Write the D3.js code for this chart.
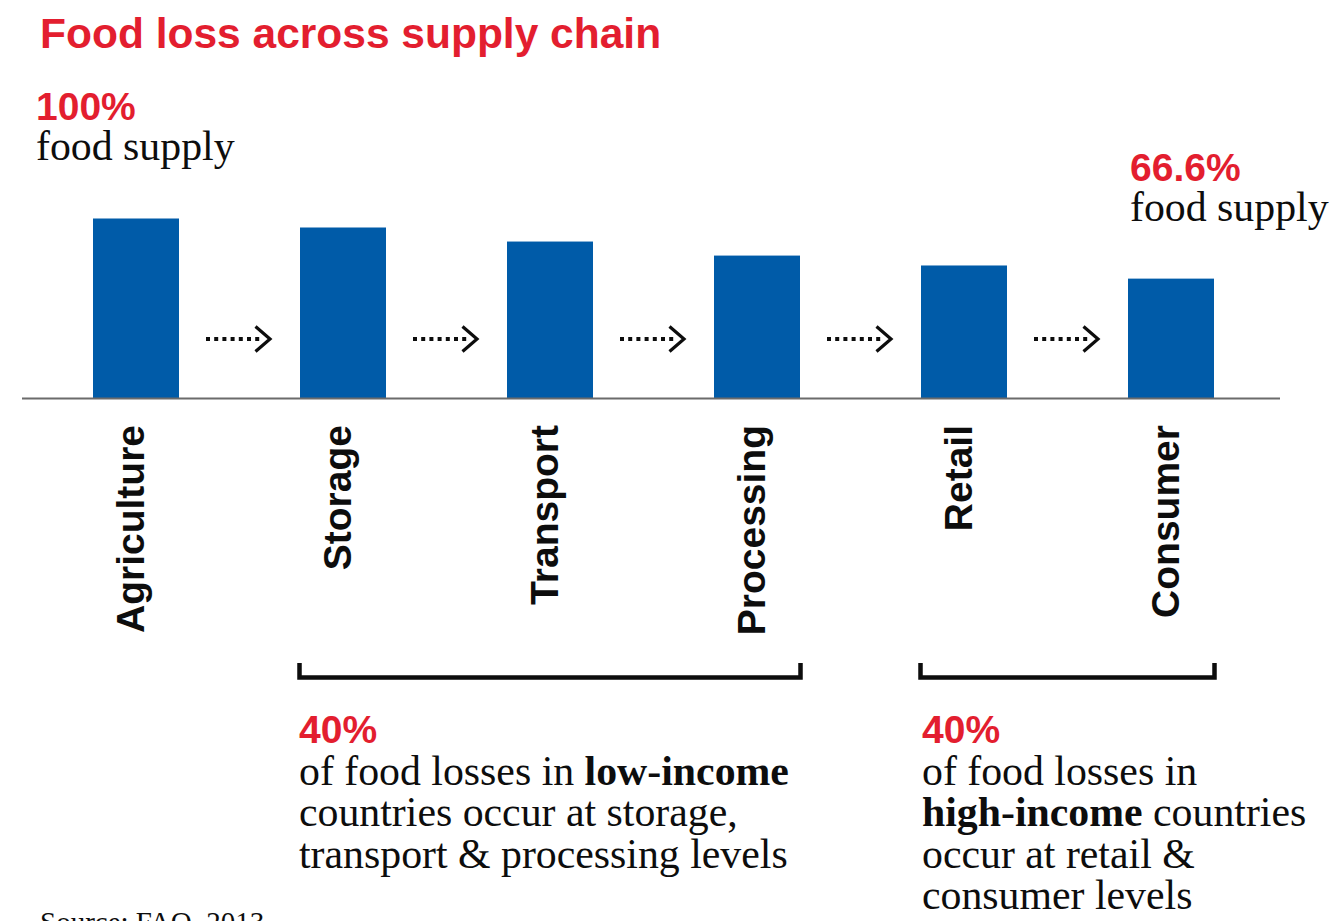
<!DOCTYPE html>
<html>
<head>
<meta charset="utf-8">
<script src="https://cdn.jsdelivr.net/npm/d3@7/dist/d3.min.js"></script>
<style>
  html, body { margin: 0; padding: 0; background: #ffffff; }
  svg { display: block; }
</style>
</head>
<body>
<svg id="chart" width="1338" height="921"></svg>
<script>
// Share of the original food supply still left at each stage of the chain (%)
const categories = ["Agriculture", "Storage", "Transport", "Processing", "Retail", "Consumer"];
const supplyPct = [100, 95.0, 87.2, 79.4, 73.9, 66.6];

// Loss groupings shown under the axis
const groupNames = ["low", "high"];
const groupStart = ["Storage", "Retail"];
const groupEnd = ["Processing", "Consumer"];
const groupShare = [40, 40];

const title = "Food loss across supply chain";
const sourceNote = "Source: FAO, 2013";

const RED = "#e31e2f";
const BLUE = "#005ba8";
const INK = "#0d0d0d";
const SANS = "'Liberation Sans', Arial, Helvetica, sans-serif";
const SERIF = "'Liberation Serif', 'Times New Roman', Times, serif";
const SERIF_SIZE = 41.8;

const svg = d3.select("#chart");

const x = d3.scaleBand()
  .domain(categories)
  .range([93, 1214])
  .paddingInner(121 / 207)
  .paddingOuter(0);

const y = d3.scaleLinear().domain([0, 100]).range([398.5, 218.5]);
const bw = x.bandwidth();

// Title
svg.append("text")
  .attr("x", 40).attr("y", 48)
  .attr("font-family", SANS).attr("font-weight", "bold")
  .attr("font-size", 42.5).attr("fill", RED)
  .text(title);

// Start / end callouts
const fmtPct = v => d3.format(".3~f")(v) + "%";
function callout(xPos, yPos, value) {
  const g = svg.append("g");
  g.append("text")
    .attr("x", xPos).attr("y", yPos)
    .attr("font-family", SANS).attr("font-weight", "bold")
    .attr("font-size", 39).attr("fill", RED)
    .text(fmtPct(value));
  g.append("text")
    .attr("x", xPos).attr("y", yPos + 40)
    .attr("font-family", SERIF).attr("font-size", SERIF_SIZE).attr("fill", INK)
    .text("food supply");
}
callout(36, 120, supplyPct[0]);
callout(1130, 181, supplyPct[supplyPct.length - 1]);

// Bars
svg.append("g")
  .selectAll("rect")
  .data(categories)
  .join("rect")
  .attr("x", d => x(d))
  .attr("y", (d, i) => y(supplyPct[i]))
  .attr("width", bw)
  .attr("height", (d, i) => y(0) - y(supplyPct[i]))
  .attr("fill", BLUE);

// Baseline
svg.append("line")
  .attr("x1", 22).attr("x2", 1280)
  .attr("y1", y(0)).attr("y2", y(0))
  .attr("stroke", "#6b6b6b").attr("stroke-width", 2);

// Dotted arrows between consecutive stages
const arrowY = 339;
const gaps = d3.pairs(categories).map(([a, b]) => ((x(a) + bw) + x(b)) / 2);
const arrows = svg.append("g").selectAll("g").data(gaps).join("g")
  .attr("transform", d => `translate(${d},${arrowY})`);
arrows.append("line")
  .attr("x1", -33.5).attr("x2", 23)
  .attr("y1", 0).attr("y2", 0)
  .attr("stroke", INK).attr("stroke-width", 4)
  .attr("stroke-dasharray", "4,4.2");
arrows.append("path")
  .attr("d", "M16,-12.5L30.5,0L16,12.5")
  .attr("fill", "none").attr("stroke", INK)
  .attr("stroke-width", 3.2);

// Stage labels, rotated
svg.append("g")
  .selectAll("text")
  .data(categories)
  .join("text")
  .attr("transform", d => `translate(${x(d) + bw / 2 + 8},425) rotate(-90)`)
  .attr("text-anchor", "end")
  .attr("font-family", SANS).attr("font-weight", "bold")
  .attr("font-size", 39).attr("fill", INK)
  .text(d => d);

// Group brackets
const bracketY = 677.5;
groupNames.forEach((name, i) => {
  const x0 = x(groupStart[i]) - 0.5;
  const x1 = x(groupEnd[i]) + bw + 0.5;
  svg.append("path")
    .attr("d", `M${x0},663V${bracketY}H${x1}V663`)
    .attr("fill", "none").attr("stroke", INK)
    .attr("stroke-width", 4.5).attr("stroke-linejoin", "miter");
});

// Group notes
function note(xPos, share, lines) {
  const g = svg.append("g");
  g.append("text")
    .attr("x", xPos).attr("y", 743)
    .attr("font-family", SANS).attr("font-weight", "bold")
    .attr("font-size", 39).attr("fill", RED)
    .text(share + "%");
  lines.forEach((segs, j) => {
    const t = g.append("text")
      .attr("x", xPos).attr("y", 785 + j * 41.3)
      .attr("font-family", SERIF).attr("font-size", SERIF_SIZE).attr("fill", INK);
    segs.forEach(([str, bold]) => {
      t.append("tspan").attr("font-weight", bold ? "bold" : "normal").text(str);
    });
  });
}
note(x(groupStart[0]) - 1, groupShare[0], [
  [["of food losses in ", false], ["low-income", true]],
  [["countries occur at storage,", false]],
  [["transport & processing levels", false]]
]);
note(x(groupStart[1]) + 1, groupShare[1], [
  [["of food losses in", false]],
  [["high-income", true], [" countries", false]],
  [["occur at retail &", false]],
  [["consumer levels", false]]
]);

// Source
svg.append("text")
  .attr("x", 40).attr("y", 932)
  .attr("font-family", SERIF).attr("font-size", 29).attr("fill", INK)
  .text(sourceNote);
</script>
</body>
</html>
